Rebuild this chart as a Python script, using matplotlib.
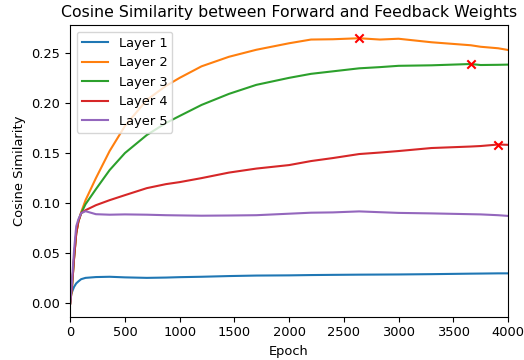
import numpy as np
import matplotlib
matplotlib.use("Agg")
import matplotlib.pyplot as plt

#Epochs at which the curves were read
epochs = [0, 15, 35, 55, 75, 100, 140, 235, 360, 500, 700, 875, 1000, 1200, 1450,
          1700, 2000, 2200, 2400, 2640, 2830, 3000, 3300, 3660, 3750, 3910, 4000]
#Cosine similarity of each layer
layer1 = [0.008, 0.011, 0.0165, 0.020, 0.022, 0.0242, 0.0255, 0.0263, 0.0266, 0.026,
          0.0255, 0.0258, 0.0262, 0.0266, 0.0273, 0.0278, 0.028, 0.0283, 0.0285, 0.0287,
          0.0288, 0.0289, 0.0292, 0.0297, 0.0298, 0.030, 0.030]
layer2 = [0.0, 0.015, 0.045, 0.070, 0.082, 0.091, 0.103, 0.125, 0.152, 0.177,
          0.203, 0.217, 0.225, 0.2365, 0.246, 0.253, 0.2595, 0.2632, 0.2635, 0.2645,
          0.2632, 0.2640, 0.2605, 0.2575, 0.256, 0.2545, 0.2528]
layer3 = [0.0, 0.015, 0.045, 0.070, 0.082, 0.090, 0.099, 0.114, 0.133, 0.150,
          0.168, 0.180, 0.187, 0.198, 0.209, 0.218, 0.225, 0.229, 0.2315, 0.2345,
          0.2357, 0.237, 0.2375, 0.2388, 0.2378, 0.238, 0.2382]
layer4 = [0.0, 0.015, 0.045, 0.070, 0.082, 0.090, 0.093, 0.098, 0.103, 0.108,
          0.115, 0.119, 0.121, 0.125, 0.1305, 0.1345, 0.138, 0.142, 0.145, 0.149,
          0.1505, 0.152, 0.155, 0.1565, 0.157, 0.1585, 0.1582]
layer5 = [0.0, 0.020, 0.053, 0.077, 0.084, 0.090, 0.092, 0.089, 0.0885, 0.0888,
          0.0885, 0.088, 0.0878, 0.0875, 0.0877, 0.088, 0.0895, 0.0905, 0.0908, 0.0918,
          0.091, 0.0903, 0.0898, 0.089, 0.0888, 0.088, 0.0873]
layers = [layer1, layer2, layer3, layer4, layer5]
names = ["Layer 1", "Layer 2", "Layer 3", "Layer 4", "Layer 5"]
#Layers whose maximum is marked
marked = [1, 2, 3]

plt.rcParams["font.size"] = 9.4
ep = np.array(epochs)
fig = plt.figure(figsize=(5.24, 3.6), dpi=100)
ax = fig.add_axes([0.134, 0.1203, 0.8355, 0.8103])
for i in range(len(layers)):
	ax.plot(ep, layers[i], label=names[i])
for i in marked:
	k = int(np.argmax(layers[i]))
	ax.scatter(ep[k], layers[i][k], marker="x", color="red", zorder=3)
ax.set_xlim(0, 4000)
ax.set_title("Cosine Similarity between Forward and Feedback Weights", fontsize=11.3)
ax.set_xlabel("Epoch")
ax.set_ylabel("Cosine Similarity")
ax.legend(loc="upper left")
fig.savefig("out.png", dpi=100)
